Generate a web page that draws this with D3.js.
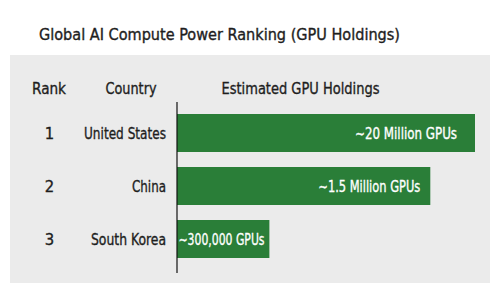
<!DOCTYPE html>
<html>
<head>
<meta charset="utf-8">
<script src="https://cdn.jsdelivr.net/npm/d3@7"></script>
<style>
    body { margin: 0; background: #fff; }
    svg text { font-family: "DejaVu Sans Condensed", "DejaVu Sans", sans-serif; fill: #1e1e1e; stroke: #1e1e1e; stroke-width: 0.35px; }
</style>
</head>
<body>
<svg width="500" height="300"></svg>
<script>
var ranks = ["1", "2", "3"];
var countries = ["United States", "China", "South Korea"];
var holdingLabels = ["~20 Million GPUs", "~1.5 Million GPUs", "~300,000 GPUs"];
// bar length as drawn in the picture (relative index, not to scale with labels)
var barIndex = [100, 85, 31];
var headers = ["Rank", "Country", "Estimated GPU Holdings"];

// rendered text widths of the condensed face in the picture
var countryWidth = [82, 34, 75];
var valueWidth = [102, 102, 86];
var headerWidth = [34, 51, 158];
var headerX = [49, 131, 300.5];

var svg = d3.select("svg");

var xScale = d3.scaleLinear().domain([0, 100]).range([177, 475]);
var yScale = d3.scaleBand().domain(countries).range([106.5, 265.5])
    .paddingInner(0.283).paddingOuter(0.1415);

function rowY(i) {
    return yScale(countries[i]) + yScale.bandwidth() / 2;
}

// Title
svg.append("text")
    .attr("x", 39)
    .attr("y", 40)
    .attr("textLength", 361)
    .attr("lengthAdjust", "spacingAndGlyphs")
    .style("font-size", "16.5px")
    .text("Global AI Compute Power Ranking (GPU Holdings)");

// Panel
svg.append("rect")
    .attr("x", 10)
    .attr("y", 55)
    .attr("width", 480)
    .attr("height", 228)
    .attr("fill", "#ebebeb");

// Header row
svg.selectAll("text.header")
    .data(headers)
    .enter()
    .append("text")
    .attr("class", "header")
    .attr("x", (d, i) => headerX[i] - headerWidth[i] / 2)
    .attr("y", 94)
    .attr("textLength", (d, i) => headerWidth[i])
    .attr("lengthAdjust", "spacingAndGlyphs")
    .style("font-size", "16.5px")
    .text(d => d);

// Bars
svg.selectAll("rect.bar")
    .data(countries)
    .enter()
    .append("rect")
    .attr("class", "bar")
    .attr("x", xScale(0))
    .attr("y", d => yScale(d))
    .attr("width", (d, i) => xScale(barIndex[i]) - xScale(0))
    .attr("height", yScale.bandwidth())
    .attr("fill", "#2a7e38");

// Axis line
svg.append("line")
    .attr("x1", xScale(0))
    .attr("x2", xScale(0))
    .attr("y1", 102)
    .attr("y2", 273)
    .attr("stroke", "#111")
    .attr("stroke-width", 1.2);

// Rank numbers
svg.selectAll("text.rank")
    .data(ranks)
    .enter()
    .append("text")
    .attr("class", "rank")
    .attr("x", 49.5)
    .attr("y", (d, i) => rowY(i) + 6)
    .attr("text-anchor", "middle")
    .style("font-size", "16.5px")
    .text(d => d);

// Country names
svg.selectAll("text.country")
    .data(countries)
    .enter()
    .append("text")
    .attr("class", "country")
    .attr("x", (d, i) => 166 - countryWidth[i])
    .attr("y", (d, i) => rowY(i) + 6)
    .attr("textLength", (d, i) => countryWidth[i])
    .attr("lengthAdjust", "spacingAndGlyphs")
    .style("font-size", "16.5px")
    .text(d => d);

// Value labels inside bars
svg.selectAll("text.value")
    .data(holdingLabels)
    .enter()
    .append("text")
    .attr("class", "value")
    .attr("x", (d, i) => i === 2 ? xScale(0) + 1.5 : xScale(barIndex[i]) - (i === 0 ? 18 : 10) - valueWidth[i])
    .attr("y", (d, i) => rowY(i) + 6)
    .attr("textLength", (d, i) => valueWidth[i])
    .attr("lengthAdjust", "spacingAndGlyphs")
    .style("font-size", "16.5px")
    .style("fill", "#fff")
    .style("stroke", "#fff")
    .text(d => d);
</script>
</body>
</html>
